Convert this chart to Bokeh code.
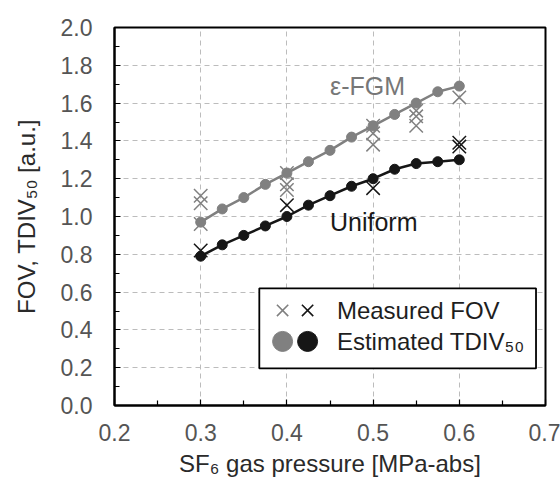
from bokeh.plotting import figure
from bokeh.models import (Range1d, FixedTicker, NumeralTickFormatter, Label, BoxAnnotation)
from bokeh.embed import file_html
from bokeh.resources import INLINE

# ---- data ----
pressure_est = [0.3, 0.325, 0.35, 0.375, 0.4, 0.425, 0.45, 0.475, 0.5, 0.525, 0.55, 0.575, 0.6]
tdiv_fgm = [0.97, 1.04, 1.10, 1.17, 1.23, 1.29, 1.35, 1.42, 1.48, 1.54, 1.60, 1.66, 1.69]
tdiv_uniform = [0.79, 0.85, 0.90, 0.95, 1.00, 1.06, 1.11, 1.16, 1.20, 1.25, 1.28, 1.29, 1.30]

fov_fgm_p = [0.3, 0.3, 0.3, 0.4, 0.4, 0.4, 0.5, 0.5, 0.5, 0.55, 0.55, 0.55, 0.6]
fov_fgm = [1.11, 1.07, 0.96, 1.23, 1.17, 1.14, 1.48, 1.44, 1.38, 1.56, 1.53, 1.48, 1.63]
fov_uni_p = [0.3, 0.4, 0.5, 0.6, 0.6]
fov_uni = [0.82, 1.06, 1.15, 1.39, 1.37]

x_ticks = [0.2, 0.3, 0.4, 0.5, 0.6, 0.7]
x_minor = [0.25, 0.35, 0.45, 0.55, 0.65]
y_ticks = [0.0, 0.2, 0.4, 0.6, 0.8, 1.0, 1.2, 1.4, 1.6, 1.8, 2.0]
y_minor = [0.1, 0.3, 0.5, 0.7, 0.9, 1.1, 1.3, 1.5, 1.7, 1.9]

GRAY = "#808080"
BLACK = "#161616"
FONT = "Liberation Sans"

p = figure(width=560, height=480, frame_width=431, frame_height=378,
           min_border_left=114, min_border_right=15, min_border_top=27, min_border_bottom=75,
           x_range=Range1d(0.2, 0.7), y_range=Range1d(0.0, 2.0),
           output_backend="svg", toolbar_location=None)
p.background_fill_color = "white"
p.border_fill_color = "white"
p.outline_line_color = "black"
p.outline_line_width = 2
p.outline_line_alpha = 1.0

for ax in (p.xaxis, p.yaxis):
    ax.axis_line_color = "black"
    ax.axis_line_width = 2
    ax.major_tick_in = 6
    ax.major_tick_out = 0
    ax.minor_tick_in = 5
    ax.minor_tick_out = 0
    ax.major_tick_line_color = "black"
    ax.minor_tick_line_color = "black"
    ax.major_tick_line_width = 1.2
    ax.minor_tick_line_width = 1.2
    ax.major_label_text_font = FONT
    ax.major_label_text_font_size = "23px"
    ax.major_label_text_color = "#555555"
    ax.axis_label_text_font = FONT
    ax.axis_label_text_font_size = "24px"
    ax.axis_label_text_font_style = "normal"
    ax.axis_label_text_color = "#2a2a2a"
    ax.formatter = NumeralTickFormatter(format="0.0")

p.xaxis.ticker = FixedTicker(ticks=x_ticks, minor_ticks=x_minor)
p.yaxis.ticker = FixedTicker(ticks=y_ticks, minor_ticks=y_minor)
p.xaxis.major_label_standoff = 18
p.yaxis.major_label_standoff = 22
p.xaxis.axis_label_standoff = 6
p.yaxis.axis_label_standoff = 18
p.xaxis.axis_label = "SF\u2086 gas pressure [MPa-abs]"
p.yaxis.axis_label = "FOV, TDIV\u2085\u2080 [a.u.]"

for g in (p.xgrid, p.ygrid):
    g.grid_line_color = "#bcbcbc"
    g.grid_line_dash = "5 4"
    g.grid_line_width = 1
p.xgrid.ticker = FixedTicker(ticks=x_ticks)
p.ygrid.ticker = FixedTicker(ticks=y_ticks)

# legend box (drawn under the glyphs, over the grid)
p.add_layout(BoxAnnotation(left=0.368, right=0.689, bottom=0.196, top=0.62,
                           fill_color="white", fill_alpha=1.0,
                           line_color="black", line_alpha=1.0, line_width=1.8,
                           level="underlay"))

# estimated TDIV50 lines + circles
p.line(pressure_est, tdiv_fgm, line_color=GRAY, line_width=2.5)
p.scatter(pressure_est, tdiv_fgm, marker="circle", size=10, fill_color=GRAY, line_color=GRAY)
p.line(pressure_est, tdiv_uniform, line_color=BLACK, line_width=2.5)
p.scatter(pressure_est, tdiv_uniform, marker="circle", size=10, fill_color=BLACK, line_color=BLACK)

# measured FOV crosses
p.scatter(fov_fgm_p, fov_fgm, marker="x", size=19, line_color=GRAY, line_width=1.5)
p.scatter(fov_uni_p, fov_uni, marker="x", size=19, line_color=BLACK, line_width=1.5)

# series labels
p.add_layout(Label(x=0.45, y=1.69, text="\u03b5-FGM", text_font=FONT, text_font_size="25px",
                   text_color="#777777", text_baseline="middle"))
p.add_layout(Label(x=0.45, y=0.97, text="Uniform", text_font=FONT, text_font_size="25px",
                   text_color="#1a1a1a", text_baseline="middle"))

# legend swatches and texts
leg_x_gray = 0.395
leg_x_black = 0.424
row1 = 0.503
row2 = 0.339
p.scatter([leg_x_gray], [row1], marker="x", size=16, line_color=GRAY, line_width=1.6)
p.scatter([leg_x_black], [row1], marker="x", size=16, line_color=BLACK, line_width=1.6)
p.scatter([leg_x_gray], [row2], marker="circle", size=20, fill_color=GRAY, line_color=GRAY)
p.scatter([leg_x_black], [row2], marker="circle", size=20, fill_color=BLACK, line_color=BLACK)
p.add_layout(Label(x=0.458, y=row1, text="Measured FOV", text_font=FONT, text_font_size="24px",
                   text_color="#1e1e1e", text_baseline="middle"))
p.add_layout(Label(x=0.458, y=row2, text="Estimated TDIV\u2085\u2080", text_font=FONT, text_font_size="24px",
                   text_color="#1e1e1e", text_baseline="middle"))

open("out.html", "w").write(file_html(p, INLINE))
